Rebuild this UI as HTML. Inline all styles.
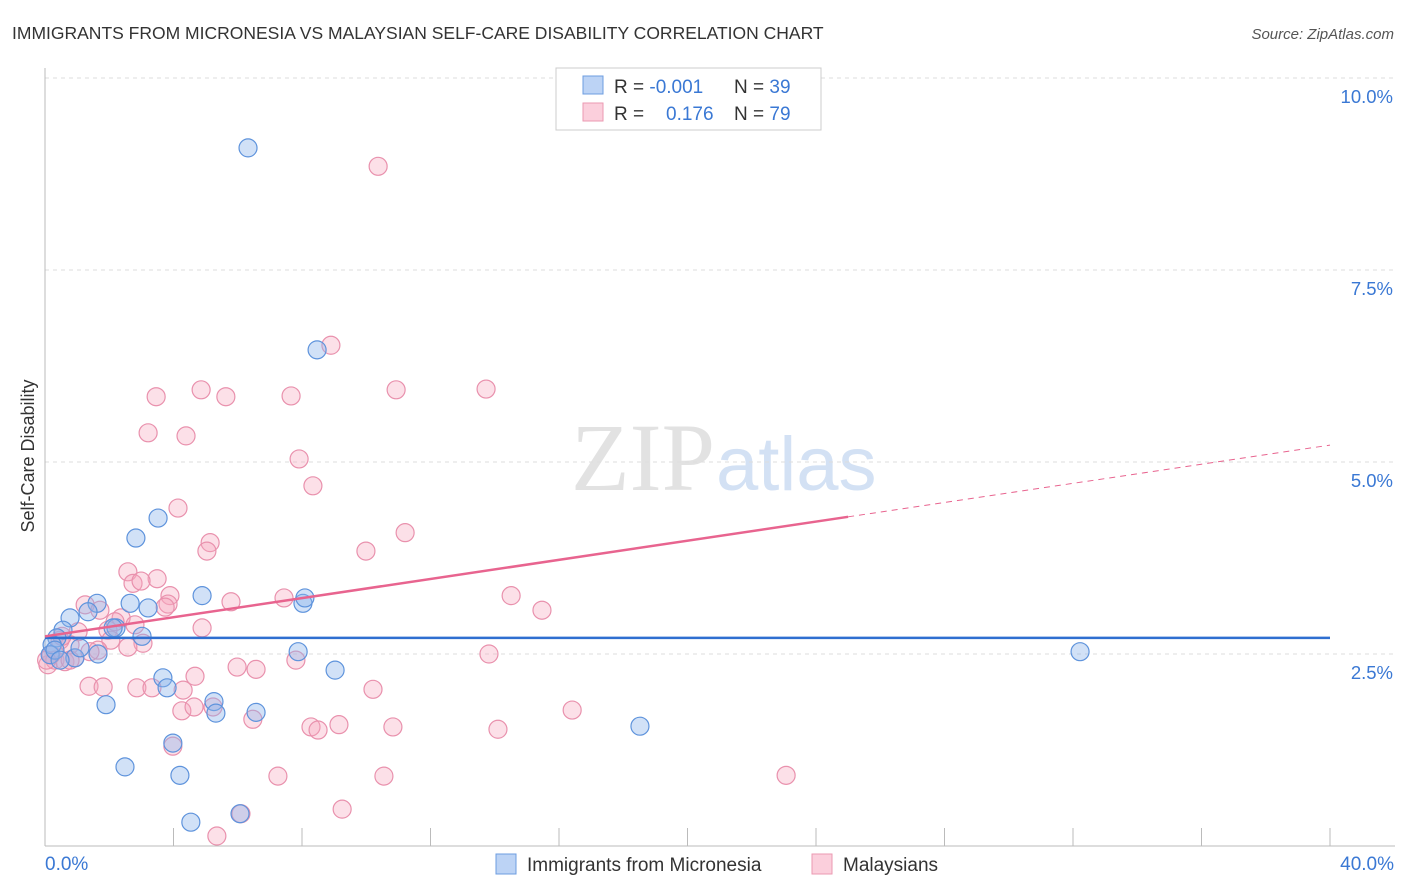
<!DOCTYPE html>
<html><head><meta charset="utf-8"><style>
body{margin:0;background:#fff;font-family:"Liberation Sans",sans-serif}
svg{display:block}
</style></head><body>
<svg id="c" width="1406" height="892">
<text x="12" y="39" font-size="17.5" fill="#333">IMMIGRANTS FROM MICRONESIA VS MALAYSIAN SELF-CARE DISABILITY CORRELATION CHART</text>
<text x="1394" y="39" font-size="15" fill="#555" font-style="italic" text-anchor="end">Source: ZipAtlas.com</text>
<text x="715" y="490" font-size="96" fill="#e2e2e2" text-anchor="end" font-family="Liberation Serif,serif">ZIP</text>
<text x="716" y="490" font-size="76" fill="#d3e1f4">atlas</text>
<g id="grid"></g><g id="pts"></g><g id="trend"></g>
<text x="34" y="456" font-size="18" fill="#333" text-anchor="middle" transform="rotate(-90 34 456)">Self-Care Disability</text>
<text x="45" y="870" font-size="19" fill="#3a78d4">0.0%</text>
<text x="1394" y="870" font-size="19" fill="#3a78d4" text-anchor="end">40.0%</text>
<g>
<rect x="556" y="68" width="265" height="62" fill="#fff" stroke="#ccc"/>
<rect x="583" y="76" width="20" height="18" fill="#bcd3f5" stroke="#6d9de0"/>
<rect x="583" y="103" width="20" height="18" fill="#fbcfdc" stroke="#eb9ab2"/>
<text x="614" y="93" font-size="19" fill="#333">R = <tspan fill="#3a78d4">-0.001</tspan><tspan x="734">N = </tspan><tspan fill="#3a78d4">39</tspan></text>
<text x="614" y="120" font-size="19" fill="#333">R = <tspan x="666" fill="#3a78d4">0.176</tspan><tspan x="734">N = </tspan><tspan fill="#3a78d4">79</tspan></text>
</g>
<g>
<rect x="496" y="854" width="20" height="20" fill="#bcd3f5" stroke="#6d9de0"/>
<text x="527" y="871" font-size="19" fill="#333">Immigrants from Micronesia</text>
<rect x="812" y="854" width="20" height="20" fill="#fbcfdc" stroke="#eb9ab2"/>
<text x="843" y="871" font-size="19" fill="#333">Malaysians</text>
</g>
</svg>
<script>
const yTicks=[2.5,5,7.5,10];
const yTickLabels=["2.5%","5.0%","7.5%","10.0%"];
const xTicks=[0,4,8,12,16,20,24,28,32,36,40];
const blueX=[6.32,8.47,3.52,2.83,1.62,0.78,1.34,0.56,0.37,0.22,0.16,0.93,1.65,1.09,2.21,2.65,3.21,4.89,3.02,2.12,8.03,8.09,7.88,9.03,3.67,3.80,1.90,5.26,5.32,6.57,3.98,2.49,4.20,4.54,6.07,18.52,32.22,0.31,0.47];
const blueY=[9.09,6.46,4.27,4.01,3.16,2.97,3.05,2.81,2.71,2.62,2.49,2.45,2.50,2.58,2.84,3.16,3.10,3.26,2.73,2.84,3.16,3.23,2.53,2.29,2.19,2.06,1.84,1.88,1.73,1.74,1.34,1.03,0.92,0.31,0.42,1.56,2.53,2.55,2.42];
const pinkX=[10.37,8.90,3.46,4.86,5.63,7.66,10.93,13.73,3.21,4.39,7.91,8.34,4.14,5.14,5.04,9.99,11.21,2.58,3.49,2.74,2.99,3.89,3.83,3.74,5.79,7.44,14.51,15.47,1.25,1.71,2.37,2.80,1.96,1.03,2.05,4.89,3.05,1.65,2.58,0.47,0.78,0.09,0.31,0.62,0.93,1.40,0.19,7.81,13.82,4.67,5.98,6.57,10.21,1.37,1.81,2.86,3.33,4.30,4.26,4.64,5.23,6.47,8.28,8.50,9.15,10.83,14.10,16.41,3.98,7.25,10.55,23.07,9.25,6.10,5.35,0.78,0.53,2.18,0.05];
const pinkY=[8.85,6.52,5.85,5.94,5.85,5.86,5.94,5.95,5.38,5.34,5.04,4.69,4.40,3.95,3.84,3.84,4.08,3.57,3.48,3.42,3.45,3.26,3.15,3.11,3.18,3.23,3.26,3.07,3.14,3.07,2.97,2.88,2.81,2.79,2.68,2.84,2.64,2.55,2.59,2.68,2.62,2.36,2.42,2.40,2.45,2.53,2.49,2.42,2.50,2.21,2.33,2.30,2.04,2.08,2.07,2.06,2.06,2.03,1.76,1.81,1.81,1.65,1.55,1.51,1.58,1.55,1.52,1.77,1.30,0.91,0.91,0.92,0.48,0.42,0.13,2.42,2.73,2.92,2.42];
const blueTrend=[2.71,2.71];
const pinkTrend=[2.73,5.22];
const pinkSolidEnd=25.0;
const NS="http://www.w3.org/2000/svg";
const X=v=>45+v/40*1285, Y=v=>846-v*76.8;
function mk(t,a,p){const e=document.createElementNS(NS,t);for(const k in a)e.setAttribute(k,a[k]);p.appendChild(e);return e;}
const grid=document.getElementById('grid');
yTicks.forEach((t,i)=>{
 const l=mk('line',{x1:45,x2:1395,y1:Y(t),y2:Y(t),stroke:'#ddd','stroke-dasharray':'4,4'},grid);
 
 
 const tx=mk('text',{x:1393,y:Y(t)+25,'font-size':18.5,fill:'#3a78d4','text-anchor':'end'},grid);
 tx.textContent=yTickLabels[i];
 
 
});
mk('line',{x1:45,x2:45,y1:68,y2:846,stroke:'#bbb'},grid);
mk('line',{x1:45,x2:1395,y1:846,y2:846,stroke:'#bbb'},grid);
xTicks.forEach(t=>{
 const l=mk('line',{x1:X(t),x2:X(t),y1:828,y2:846,stroke:'#bbb'},grid);
 
 
});
const pts=document.getElementById('pts');
pinkX.forEach((x,i)=>{
 const c=mk('circle',{cx:X(x),cy:Y(pinkY[i]),r:9,fill:'rgba(245,165,190,0.35)',stroke:'#e991ad','stroke-width':1.2},pts);
 
 
});
blueX.forEach((x,i)=>{
 const c=mk('circle',{cx:X(x),cy:Y(blueY[i]),r:9,fill:'rgba(140,180,235,0.4)',stroke:'#5e93dc','stroke-width':1.2},pts);
 
 
});
const tr=document.getElementById('trend');
const b=mk('line',{x1:X(0),x2:X(40),y1:Y(blueTrend[0]),y2:Y(blueTrend[1]),stroke:'#2f6fd0','stroke-width':2.5},tr);


const py=x=>pinkTrend[0]+(pinkTrend[1]-pinkTrend[0])*x/40;
const p1=mk('line',{x1:X(0),x2:X(pinkSolidEnd),y1:Y(py(0)),y2:Y(py(pinkSolidEnd)),stroke:'#e8648f','stroke-width':2.5},tr);


const p2=mk('line',{x1:X(pinkSolidEnd),x2:X(40),y1:Y(py(pinkSolidEnd)),y2:Y(py(40)),stroke:'#e8648f','stroke-width':1,'stroke-dasharray':'6,5'},tr);


</script>
</body></html>
